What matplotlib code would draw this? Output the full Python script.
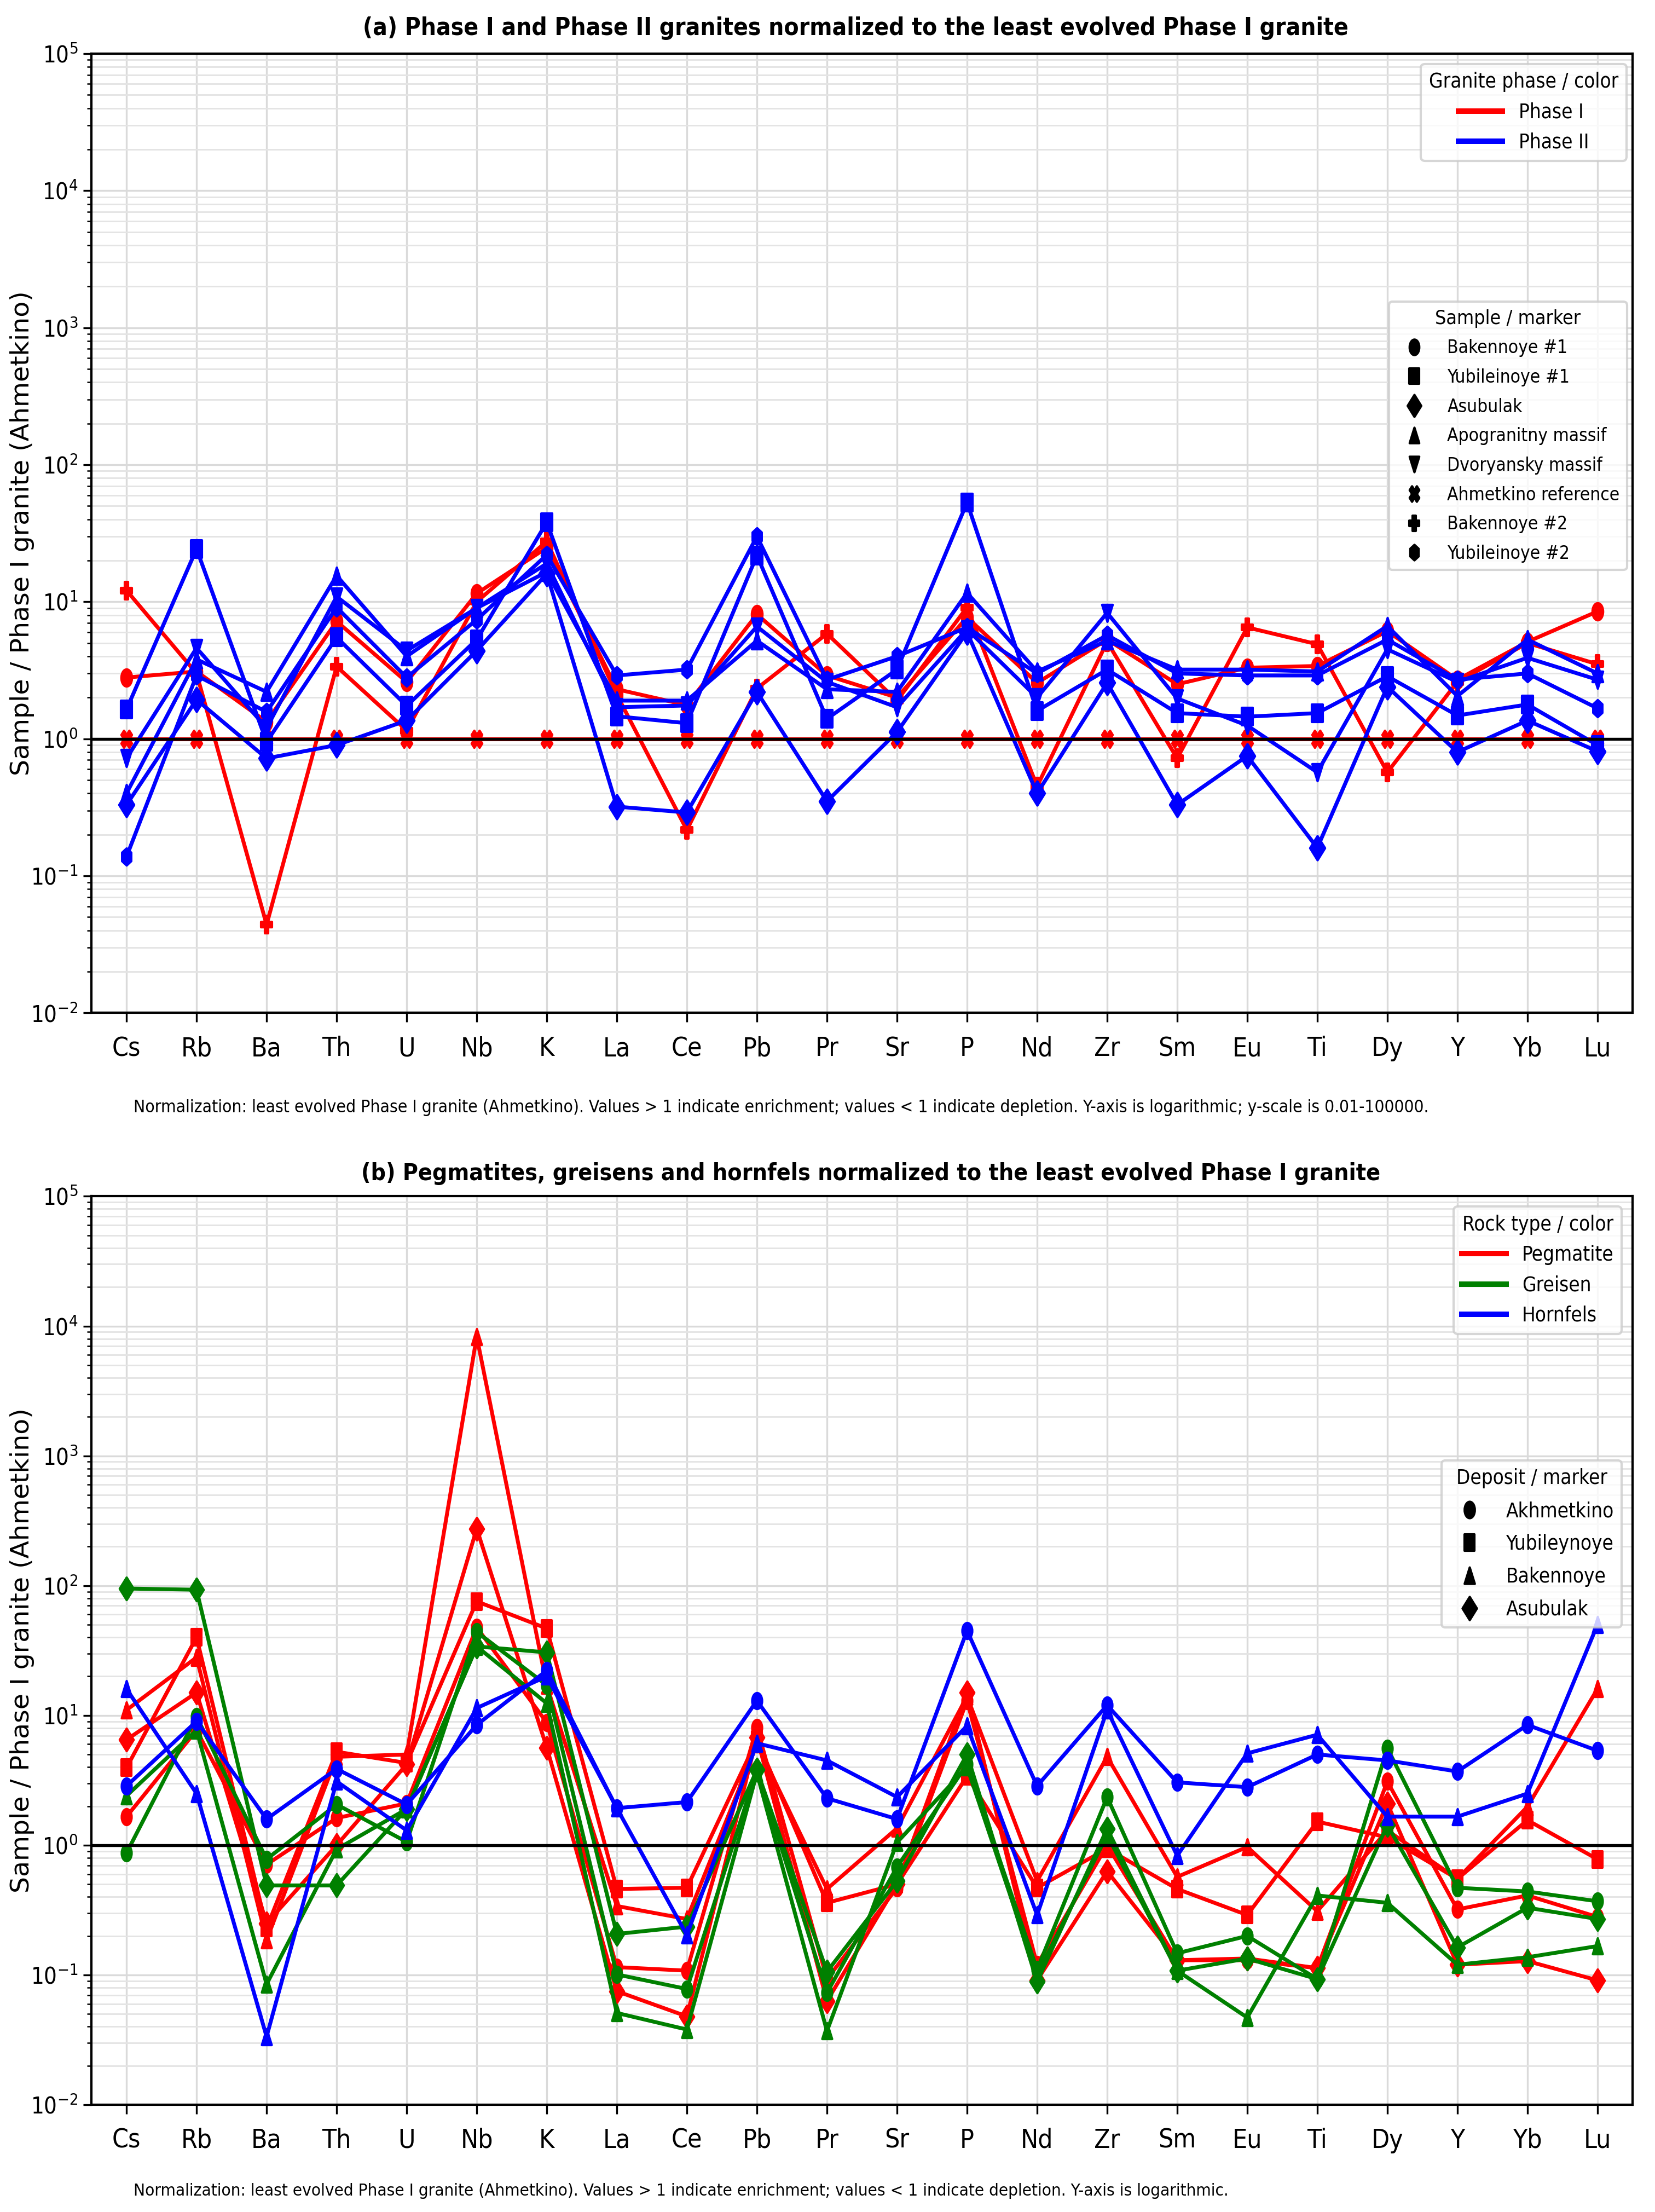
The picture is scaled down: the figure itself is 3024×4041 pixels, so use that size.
import numpy as np
import matplotlib
matplotlib.use("Agg")
import matplotlib.pyplot as plt
import matplotlib.font_manager as fm
from matplotlib.markers import MarkerStyle
from matplotlib.path import Path
from matplotlib.lines import Line2D
from matplotlib.ticker import LogLocator, NullFormatter

# ---------------------------------------------------------------- data
elements = ["Cs", "Rb", "Ba", "Th", "U", "Nb", "K", "La", "Ce", "Pb", "Pr",
            "Sr", "P", "Nd", "Zr", "Sm", "Eu", "Ti", "Dy", "Y", "Yb", "Lu"]

# (a) Phase I (red) and Phase II (blue) granites
a_bakennoye1 = [2.8, 3.1, 1.33, 7.2, 2.6, 11.5, 24.8, 2.3, 1.76, 8.1, 2.9,
                2.0, 7.7, 2.56, 5.3, 2.5, 3.3, 3.4, 6.1, 2.7, 5.1, 8.5]
a_bakennoye2 = [12.1, 3.0, 0.044, 3.37, 1.15, 10.0, 27.6, 2.1, 0.216, 2.33, 5.85,
                1.9, 9.1, 0.45, 5.1, 0.72, 6.5, 4.9, 0.57, 2.6, 5.0, 3.5]
a_ahmetkino_ref = [1.0, 1.0, 1.0, 1.0, 1.0, 1.0, 1.0, 1.0, 1.0, 1.0, 1.0,
                   1.0, 1.0, 1.0, 1.0, 1.0, 1.0, 1.0, 1.0, 1.0, 1.0, 1.0]
a_yubileinoye1 = [1.64, 24.3, 0.95, 5.5, 1.74, 5.3, 38.0, 1.46, 1.3, 21.8, 1.4,
                  3.2, 53.0, 1.6, 3.2, 1.54, 1.45, 1.54, 2.86, 1.48, 1.78, 0.9]
a_asubulak = [0.33, 1.93, 0.72, 0.90, 1.36, 4.4, 16.0, 0.32, 0.29, 2.2, 0.35,
              1.12, 6.0, 0.40, 2.56, 0.33, 0.75, 0.16, 2.4, 0.80, 1.36, 0.81]
a_apogranitny = [0.40, 3.8, 2.2, 15.5, 4.0, 9.0, 16.5, 1.9, 1.9, 5.2, 2.3,
                 2.2, 11.6, 3.1, 5.2, 3.2, 3.2, 3.1, 6.65, 2.05, 5.3, 3.0]
a_dvoryansky = [0.72, 4.6, 1.2, 10.9, 4.4, 9.0, 19.0, 1.7, 1.75, 6.6, 2.6,
                1.7, 6.3, 2.0, 8.3, 1.97, 1.25, 0.57, 4.5, 2.6, 3.9, 2.7]
a_yubileinoye2 = [0.138, 2.9, 1.57, 9.1, 2.8, 7.4, 22.0, 2.9, 3.2, 30.0, 2.7,
                  4.0, 6.5, 3.0, 5.7, 3.0, 2.9, 2.9, 5.3, 2.7, 3.0, 1.67]

# (b) pegmatites (red), greisens (green), hornfels (blue)
b_peg_akhmetkino = [1.66, 7.7, 0.71, 1.62, 2.1, 47.7, 8.8, 0.115, 0.108, 8.1, 0.093,
                    0.47, 13.0, 0.12, 1.0, 0.13, 0.13, 0.113, 3.1, 0.32, 0.41, 0.28]
b_peg_yubileynoye = [3.95, 40.0, 0.23, 5.25, 4.3, 75.6, 46.8, 0.46, 0.47, 6.5, 0.36,
                     0.5, 3.4, 0.47, 0.94, 0.46, 0.29, 1.52, 1.15, 0.55, 1.56, 0.78]
b_peg_bakennoye = [11.0, 28.0, 0.186, 4.8, 5.0, 8300.0, 17.0, 0.34, 0.27, 6.0, 0.46,
                   1.35, 14.0, 0.53, 4.8, 0.57, 0.97, 0.31, 1.3, 0.55, 1.98, 16.0]
b_peg_asubulak = [6.5, 15.0, 0.25, 1.0, 4.2, 275.0, 5.65, 0.075, 0.048, 6.8, 0.063,
                  0.5, 15.0, 0.091, 0.63, 0.13, 0.134, 0.113, 2.1, 0.12, 0.128, 0.091]
b_gre_akhmetkino = [0.87, 9.8, 0.78, 2.06, 1.06, 44.0, 17.1, 0.101, 0.078, 3.8, 0.073,
                    0.68, 4.2, 0.11, 2.35, 0.147, 0.2, 0.093, 5.6, 0.47, 0.44, 0.37]
b_gre_bakennoye = [2.4, 7.7, 0.085, 0.93, 1.9, 34.0, 12.4, 0.051, 0.038, 3.6, 0.037,
                   1.05, 4.0, 0.1, 1.2, 0.108, 0.047, 0.41, 0.36, 0.12, 0.137, 0.167]
b_gre_asubulak = [95.0, 93.0, 0.49, 0.49, 1.9, 34.0, 30.6, 0.207, 0.236, 3.8, 0.106,
                  0.53, 5.0, 0.089, 1.34, 0.108, 0.134, 0.093, 1.43, 0.163, 0.33, 0.27]
b_hor_akhmetkino = [2.86, 9.0, 1.59, 3.87, 2.06, 8.45, 22.2, 1.93, 2.15, 13.0, 2.3,
                    1.59, 45.0, 2.86, 12.0, 3.05, 2.8, 5.0, 4.5, 3.7, 8.45, 5.35]
b_hor_bakennoye = [16.0, 2.5, 0.0335, 3.1, 1.3, 11.4, 20.0, 1.93, 0.203, 6.1, 4.5,
                   2.35, 8.3, 0.29, 11.0, 0.83, 5.1, 7.1, 1.66, 1.66, 2.5, 50.0]

phase_labels = ["Phase I", "Phase II"]
sample_labels = ["Bakennoye #1", "Yubileinoye #1", "Asubulak", "Apogranitny massif",
                 "Dvoryansky massif", "Ahmetkino reference", "Bakennoye #2", "Yubileinoye #2"]
rock_labels = ["Pegmatite", "Greisen", "Hornfels"]
deposit_labels = ["Akhmetkino", "Yubileynoye", "Bakennoye", "Asubulak"]

# ---------------------------------------------------------------- fonts
FONT, STRETCH = "DejaVu Sans", "normal"
_pref = ["DejaVu Sans", "DejaVu Sans Condensed", "Liberation Sans Narrow", "Noto Sans",
         "Noto Sans Condensed", "Open Sans", "Open Sans Condensed", "Roboto", "Roboto Condensed"]
_cond = [f for f in fm.fontManager.ttflist
         if ("condensed" in str(f.stretch).lower() or "Condensed" in f.name or "Narrow" in f.name)
         and not str(f.style).lower().startswith("italic")]
for _p in _pref:
    _hit = [f for f in _cond if f.name == _p]
    if _hit:
        FONT, STRETCH = _p, _hit[0].stretch
        break
plt.rcParams["font.family"] = [FONT, "DejaVu Sans"]
plt.rcParams["font.stretch"] = STRETCH
plt.rcParams["mathtext.default"] = "regular"

SQ = 0.62   # horizontal squeeze of marker shapes


def squeeze(m):
    ms = MarkerStyle(m)
    p = ms.get_path().transformed(ms.get_transform())
    v = p.vertices.copy()
    scale = np.abs(v).max() / 0.5
    v[:, 0] *= SQ
    return Path(v, p.codes), scale


RED, BLUE, GREEN = "#ff0000", "#0000ff", "#008000"
LW = 1.7

W, H = 3024, 4041
fig = plt.figure(figsize=(W / 300, H / 300), dpi=300)
axA = fig.add_axes([65 / 1176, 1 - 718 / 1568, (1160 - 65) / 1176, (718 - 38) / 1568])
axB = fig.add_axes([65 / 1176, 1 - 1492 / 1568, (1160 - 65) / 1176, (1492 - 848) / 1568])
x = np.arange(len(elements))


def draw(ax, vals, color, mk, ms):
    path, f = squeeze(mk)
    ax.plot(x, vals, color=color, lw=LW, marker=path, markersize=ms * f,
            markerfacecolor=color, markeredgecolor=color, zorder=2)


for ax in (axA, axB):
    ax.set_yscale("log")
    ax.set_ylim(1e-2, 1e5)
    ax.set_xlim(-0.5, len(elements) - 0.5)
    ax.set_xticks(x)
    ax.set_xticklabels(elements, fontsize=11.5)
    ax.yaxis.set_major_locator(LogLocator(base=10, numticks=12))
    ax.yaxis.set_minor_locator(LogLocator(base=10, subs=np.arange(2, 10), numticks=100))
    ax.yaxis.set_minor_formatter(NullFormatter())
    ax.tick_params(axis="y", labelsize=10, pad=2.5)
    ax.tick_params(axis="x", length=4, pad=6)
    ax.grid(True, which="major", color="#dadada", lw=0.8)
    ax.grid(True, which="minor", axis="y", color="#e4e4e4", lw=0.7)
    ax.set_axisbelow(True)
    ax.axhline(1, color="black", lw=1.3, zorder=4)
    for s in ax.spines.values():
        s.set_linewidth(1.0)

# ---------------------------------------------------------------- panel (a)
MSA = 7.5
draw(axA, a_ahmetkino_ref, RED, "X", MSA)
draw(axA, a_bakennoye1, RED, "o", MSA)
draw(axA, a_bakennoye2, RED, "P", MSA)
draw(axA, a_yubileinoye1, BLUE, "s", MSA)
draw(axA, a_asubulak, BLUE, "D", MSA)
draw(axA, a_apogranitny, BLUE, "^", MSA)
draw(axA, a_dvoryansky, BLUE, "v", MSA)
draw(axA, a_yubileinoye2, BLUE, "h", MSA)

LEG_FS = 8.8
h1 = [Line2D([], [], color=c, lw=2.4, label=l) for c, l in zip([RED, BLUE], phase_labels)]
leg1 = axA.legend(handles=h1, title="Granite phase / color", loc="upper right",
                  bbox_to_anchor=(1.0, 0.9956), borderaxespad=0.3,
                  fontsize=LEG_FS, title_fontsize=LEG_FS, handlelength=2.2)
axA.add_artist(leg1)
h2 = []
for mk, lab in zip(["o", "s", "D", "^", "v", "X", "P", "h"], sample_labels):
    p, f = squeeze(mk)
    h2.append(Line2D([], [], ls="none", marker=p, markersize=6.8 * f, color="black", label=lab))
axA.legend(handles=h2, title="Sample / marker", loc="upper right",
           bbox_to_anchor=(1.0, 0.747), borderaxespad=0.3,
           fontsize=8.0, title_fontsize=8.6, labelspacing=0.62)

# ---------------------------------------------------------------- panel (b)
MSB = 7.0
draw(axB, b_peg_akhmetkino, RED, "o", MSB)
draw(axB, b_peg_yubileynoye, RED, "s", MSB)
draw(axB, b_peg_bakennoye, RED, "^", MSB)
draw(axB, b_peg_asubulak, RED, "D", MSB)
draw(axB, b_gre_akhmetkino, GREEN, "o", MSB)
draw(axB, b_gre_bakennoye, GREEN, "^", MSB)
draw(axB, b_gre_asubulak, GREEN, "D", MSB)
draw(axB, b_hor_akhmetkino, BLUE, "o", MSB)
draw(axB, b_hor_bakennoye, BLUE, "^", MSB)

h3 = [Line2D([], [], color=c, lw=2.4, label=l) for c, l in zip([RED, GREEN, BLUE], rock_labels)]
leg3 = axB.legend(handles=h3, title="Rock type / color", loc="upper right",
                  bbox_to_anchor=(0.997, 0.9953), borderaxespad=0.3,
                  fontsize=LEG_FS, title_fontsize=LEG_FS, handlelength=2.2)
axB.add_artist(leg3)
h4 = []
for mk, lab in zip(["o", "s", "^", "D"], deposit_labels):
    p, f = squeeze(mk)
    h4.append(Line2D([], [], ls="none", marker=p, markersize=7.2 * f, color="black", label=lab))
axB.legend(handles=h4, title="Deposit / marker", loc="upper right",
           bbox_to_anchor=(0.997, 0.716), borderaxespad=0.3,
           fontsize=LEG_FS, title_fontsize=LEG_FS, labelspacing=0.62)

# ---------------------------------------------------------------- texts
renderer = fig.canvas.get_renderer()


def fit(txt, target_px, dim="w"):
    bb = txt.get_window_extent(renderer)
    cur = bb.width if dim == "w" else bb.height
    txt.set_fontsize(txt.get_fontsize() * target_px / cur)


tA = fig.text(0.517, 1 - 20 / 1568, "(a) Phase I and Phase II granites normalized to the least evolved Phase I granite",
              ha="center", va="center", fontweight="bold", fontsize=12)
fit(tA, 700 * W / 1176)
tB = fig.text(0.526, 1 - 832 / 1568, "(b) Pegmatites, greisens and hornfels normalized to the least evolved Phase I granite",
              ha="center", va="center", fontweight="bold", fontsize=12)
fit(tB, 723 * W / 1176)

cA = fig.text(95 / 1176, 1 - 785 / 1568,
              "Normalization: least evolved Phase I granite (Ahmetkino). Values > 1 indicate enrichment; "
              "values < 1 indicate depletion. Y-axis is logarithmic; y-scale is 0.01-100000.",
              ha="left", va="center", fontsize=9)
fit(cA, 920 * W / 1176)
cB = fig.text(95 / 1176, 1 - 1553 / 1568,
              "Normalization: least evolved Phase I granite (Ahmetkino). Values > 1 indicate enrichment; "
              "values < 1 indicate depletion. Y-axis is logarithmic.",
              ha="left", va="center", fontsize=9)
fit(cB, 782 * W / 1176)

for ax in (axA, axB):
    lab = ax.set_ylabel("Sample / Phase I granite (Ahmetkino)", family="DejaVu Sans",
                        fontsize=10.5, stretch="normal")
    ax.yaxis.set_label_coords(-0.037, 0.5)
    fit(lab, 345 * W / 1176, dim="h")

fig.savefig("out.png", dpi=300)
